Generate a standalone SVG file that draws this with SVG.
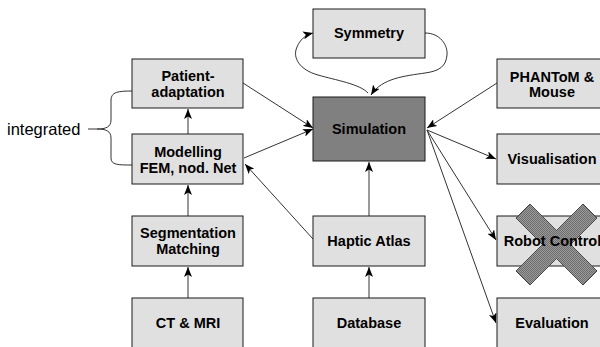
<svg xmlns="http://www.w3.org/2000/svg" width="600" height="347" viewBox="0 0 600 347">
<defs>
<style>
.box{fill:#e0e0e0;stroke:#1a1a1a;stroke-width:1}
.dark{fill:#808080;stroke:#1a1a1a;stroke-width:1}
.lbl{font-family:"Liberation Sans",Arial,sans-serif;font-weight:bold;font-size:14.5px;fill:#000;text-anchor:middle}
.vline{stroke:#808080;stroke-width:1.6;fill:none}
.dline{stroke:#333;stroke-width:1;fill:none}
</style>
<marker id="ah" markerUnits="userSpaceOnUse" markerWidth="10" markerHeight="8" viewBox="0 0 10 8" refX="10" refY="4" orient="auto">
<path d="M0,0 L10,4 L0,8 L2.5,4 z" fill="#000"/>
</marker>
<pattern id="hatch" width="2" height="2" patternUnits="userSpaceOnUse">
<rect width="2" height="2" fill="#9a9a9a"/>
<rect width="1" height="1" fill="#6e6e6e"/>
<rect x="1" y="1" width="1" height="1" fill="#6e6e6e"/>
</pattern>
</defs>
<rect width="600" height="347" fill="#fff"/>

<g id="connectors">
<line class="vline" x1="188" y1="298" x2="188" y2="267" marker-end="url(#ah)"/>
<line class="vline" x1="188" y1="216" x2="188" y2="185" marker-end="url(#ah)"/>
<line class="vline" x1="188" y1="134" x2="188" y2="109" marker-end="url(#ah)"/>
<line class="vline" x1="369" y1="298" x2="369" y2="267" marker-end="url(#ah)"/>
<line class="vline" x1="369" y1="216" x2="369" y2="162" marker-end="url(#ah)"/>
<line class="dline" x1="313" y1="239" x2="245" y2="164" marker-end="url(#ah)"/>
<line class="dline" x1="243" y1="83" x2="313" y2="128" marker-end="url(#ah)"/>
<line class="dline" x1="244" y1="158" x2="313" y2="129" marker-end="url(#ah)"/>
<line class="dline" x1="497" y1="83" x2="427" y2="128" marker-end="url(#ah)"/>
<line class="dline" x1="427" y1="130" x2="496" y2="159" marker-end="url(#ah)"/>
<line class="dline" x1="427" y1="130" x2="496" y2="240" marker-end="url(#ah)"/>
<line class="dline" x1="427" y1="130" x2="496" y2="323" marker-end="url(#ah)"/>
<path class="dline" d="M368,93 C360,84 335,80 318,75 C300,70 292,58 297,47 C300,40 305,35 313,33" marker-end="url(#ah)"/>
<path class="dline" d="M425,33 C440,33 448,45 447,55 C446,66 440,71 425,73 C405,76 382,78 371,95" marker-end="url(#ah)"/>
</g>

<g id="integrated">
<path d="M132,91 C118,91 111,92 111,100 L111,120 C111,127 106,129 97,129 C106,129 111,131 111,138 L111,158 C111,165 118,165 132,165" fill="none" stroke="#333" stroke-width="1"/>
<line x1="88" y1="129" x2="97" y2="129" stroke="#333" stroke-width="1"/>
<text x="7" y="135" font-family="'Liberation Sans',Arial,sans-serif" font-size="16.5" fill="#000">integrated</text>
</g>

<g id="patient"><rect class="box" x="132" y="59" width="111" height="49"/><text class="lbl" x="188" y="81">Patient-</text><text class="lbl" x="188" y="97">adaptation</text></g>
<g id="modelling"><rect class="box" x="132" y="134" width="111" height="50"/><text class="lbl" x="188" y="157">Modelling</text><text class="lbl" x="188" y="173">FEM, nod. Net</text></g>
<g id="segmentation"><rect class="box" x="132" y="216" width="111" height="50"/><text class="lbl" x="188" y="238">Segmentation</text><text class="lbl" x="188" y="254">Matching</text></g>
<g id="ctmri"><rect class="box" x="132" y="298" width="111" height="50"/><text class="lbl" x="188" y="328">CT &amp; MRI</text></g>

<g id="symmetry"><rect class="box" x="313" y="9" width="112" height="49"/><text class="lbl" x="369" y="38">Symmetry</text></g>
<g id="simulation"><rect class="dark" x="313" y="97" width="112" height="64"/><text class="lbl" x="369" y="134">Simulation</text></g>
<g id="hapticatlas"><rect class="box" x="313" y="216" width="112" height="50"/><text class="lbl" x="369" y="246">Haptic Atlas</text></g>
<g id="database"><rect class="box" x="313" y="298" width="112" height="50"/><text class="lbl" x="369" y="328">Database</text></g>

<g id="phantom"><rect class="box" x="497" y="59" width="111" height="49"/><text class="lbl" x="552" y="82">PHANToM &amp;</text><text class="lbl" x="552" y="97">Mouse</text></g>
<g id="visualisation"><rect class="box" x="497" y="134" width="111" height="50"/><text class="lbl" x="552" y="164">Visualisation</text></g>
<g id="robotcontrol"><rect class="box" x="497" y="216" width="111" height="50"/>
<path d="M516,218 L530,204 L556.5,230.5 L583,204 L597,218 L570.5,244.5 L597,271 L583,285 L556.5,258.5 L530,285 L516,271 L542.5,244.5 Z" fill="url(#hatch)" stroke="#444" stroke-width="1"/>
<text class="lbl" x="552.5" y="246">Robot Control</text></g>
<g id="evaluation"><rect class="box" x="497" y="298" width="111" height="50"/><text class="lbl" x="552" y="328">Evaluation</text></g>
</svg>
